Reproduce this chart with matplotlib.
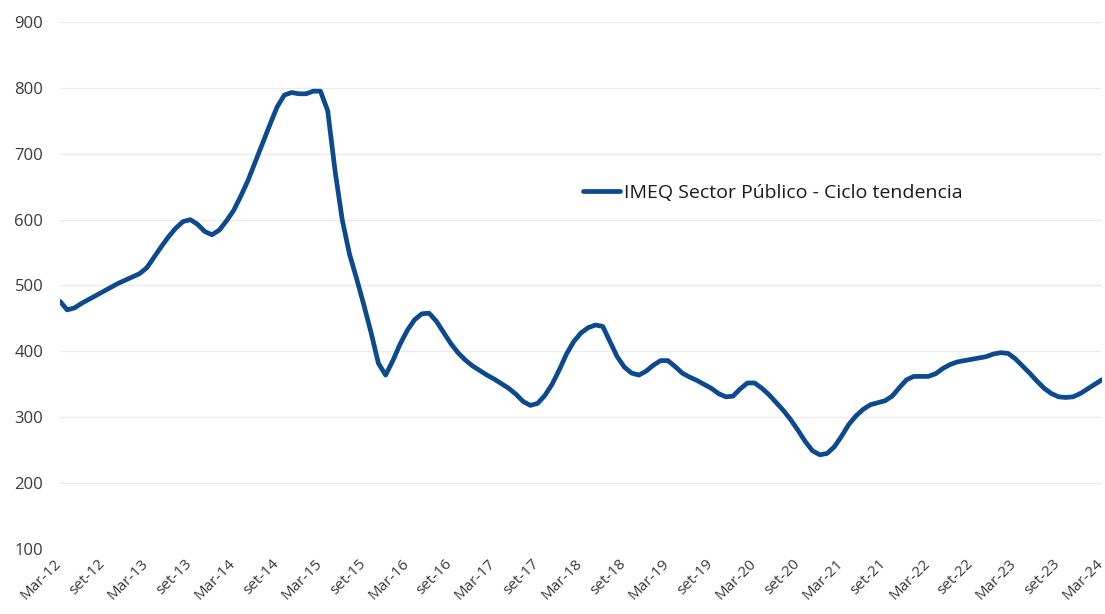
import matplotlib
matplotlib.use("Agg")
import matplotlib.pyplot as plt
import matplotlib.transforms as mtransforms
import numpy as np

plt.rcParams['font.family'] = ['Open Sans', 'DejaVu Sans']

# monthly series, Mar-12 .. Mar-24
imeq_values = [
    476, 463, 466, 473, 479, 485, 491, 497, 503, 508, 513, 518,
    527, 543, 559, 574, 587, 597, 600, 593, 582, 577, 584, 598,
    614, 636, 660, 688, 716, 744, 771, 789, 793, 791, 791, 795,
    795, 765, 675, 600, 548, 510, 470, 428, 382, 364, 386, 411,
    432, 448, 457, 458, 446, 429, 412, 398, 387, 378, 371, 364,
    358, 351, 344, 335, 324, 318, 321, 333, 350, 372, 396, 415,
    428, 436, 440, 438, 415, 392, 376, 367, 364, 370, 379, 386,
    386, 377, 367, 361, 356, 350, 344, 336, 331, 332, 343, 352,
    352, 344, 334, 322, 310, 296, 280, 263, 249, 243, 245, 255,
    271, 289, 302, 312, 319, 322, 325, 332, 345, 357, 362, 362,
    362, 366, 374, 380, 384, 386, 388, 390, 392, 396, 398, 397,
    389, 378, 367, 355, 344, 336, 331, 330, 331, 336, 343, 350,
    357,
]
tick_labels = []
for yr in range(12, 25):
    tick_labels.append("Mar-%d" % yr)
    if yr < 24:
        tick_labels.append("set-%d" % yr)
y_ticks = [100, 200, 300, 400, 500, 600, 700, 800, 900]
series_name = "IMEQ Sector Público - Ciclo tendencia"

line_color = "#0B4A8F"
text_color = "#3a3a3a"

fig = plt.figure(figsize=(11.05, 6.14), dpi=100)
ax = fig.add_axes([60 / 1105, 65 / 614, 1042 / 1105, 527 / 614])

months = np.arange(len(imeq_values))
ax.plot(months, imeq_values, color=line_color, lw=3.4, solid_capstyle='round',
        solid_joinstyle='round', label=series_name, zorder=3)

ax.set_xlim(0, len(imeq_values) - 1)
ax.set_ylim(100, 900)
ax.set_yticks(y_ticks)
ax.set_yticklabels([str(v) for v in y_ticks], fontsize=12, color=text_color)
ax.set_xticks(np.arange(0, len(imeq_values), 6))
ax.set_xticklabels(tick_labels, rotation=45, ha='right', rotation_mode='anchor',
                   fontsize=11, color=text_color)
ax.tick_params(axis='both', length=0)
ax.tick_params(axis='y', pad=12)
ax.tick_params(axis='x', pad=5)
# nudge rotated labels a little to the left so the last one stays inside
shift = mtransforms.ScaledTranslation(-6 / 100, 0, fig.dpi_scale_trans)
for lbl in ax.get_xticklabels():
    lbl.set_transform(lbl.get_transform() + shift)
for s in ax.spines.values():
    s.set_visible(False)
ax.grid(axis='y', color='#ebebeb', lw=1.0, zorder=0)
ax.set_axisbelow(True)

fig.legend(loc='center left', bbox_to_anchor=(583 / 1105, (614 - 193) / 614),
           bbox_transform=fig.transFigure, frameon=False, fontsize=14,
           handlelength=1.9, handletextpad=0.2, borderpad=0, borderaxespad=0,
           labelcolor='#1a1a1a')

fig.savefig("out.png", dpi=100)
